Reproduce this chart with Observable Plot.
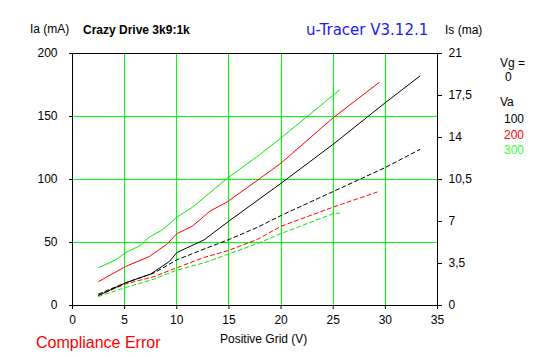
<!DOCTYPE html>
<html>
<head>
<meta charset="utf-8">
<script src="https://cdn.jsdelivr.net/npm/d3@7"></script>
<script src="https://cdn.jsdelivr.net/npm/@observablehq/plot@0.6"></script>
<style>
  html, body { margin: 0; padding: 0; background: #fff; }
  #chart { width: 547px; height: 357px; }
</style>
</head>
<body>
<div id="chart"></div>
<script>
// ---- data ----
const vaLevels = [100, 200, 300];
const seriesColors = ["#000000", "#ff0000", "#00ee00"];
const legendColors = ["#000000", "#ff0000", "#33ff33"];

// Anode current Ia (mA) vs positive grid voltage (V)
const ia100V = [2.5, 5.1, 7.5, 9.3, 10, 12.6, 15, 18, 20, 25, 30, 33.3];
const ia100 = [8, 18, 25, 35, 42, 52, 67, 85, 97, 128, 161, 182];
const ia200V = [2.5, 5.1, 7.4, 9.1, 10, 11.5, 13.2, 14.8, 18, 20, 25, 29.4];
const ia200 = [19, 31, 39, 49, 57, 63, 75, 82, 101, 113, 149, 177];
const ia300V = [2.5, 4.1, 5.1, 6.6, 7.3, 8.6, 10, 11.5, 15, 18, 20, 25.6];
const ia300 = [30, 36, 42, 48, 54, 60, 70, 78, 102, 120, 133, 171];

// Screen current Is (mA, right axis)
const is100V = [2.5, 5.1, 7.8, 10, 12.6, 15, 17.7, 20, 25, 30, 33.3];
const is100 = [0.95, 1.9, 2.7, 3.8, 4.7, 5.5, 6.5, 7.5, 9.5, 11.5, 13.0];
const is200V = [2.5, 5.1, 7.8, 10, 12.6, 15, 17.7, 20, 25, 29.2];
const is200 = [0.85, 1.8, 2.4, 3.15, 4.0, 4.6, 5.5, 6.6, 8.2, 9.45];
const is300V = [2.5, 5.1, 7.8, 10, 12.6, 15, 17.7, 20, 25, 25.6];
const is300 = [0.75, 1.5, 2.2, 2.95, 3.55, 4.3, 5.15, 6.0, 7.65, 7.7];

const xTicks = [0, 5, 10, 15, 20, 25, 30, 35];
const yTicks = [0, 50, 100, 150, 200];
const isTicks = [0, 3.5, 7, 10.5, 14, 17.5, 21];
const xGrid = [5, 10, 15, 20, 25, 30];
const yGrid = [50, 100, 150];

const iaMax = 200, isMax = 21;

// ---- build tables ----
function pts(vs, ys, va, scale) {
  return vs.map((v, i) => ({ v, y: ys[i] * scale, va }));
}
const iaData = [
  ...pts(ia100V, ia100, 100, 1),
  ...pts(ia200V, ia200, 200, 1),
  ...pts(ia300V, ia300, 300, 1)
];
const k = iaMax / isMax;
const isData = [
  ...pts(is100V, is100, 100, k),
  ...pts(is200V, is200, 200, k),
  ...pts(is300V, is300, 300, k)
];

const fmtComma = d => String(d).replace(".", ",");

const chart = Plot.plot({
  width: 547,
  height: 357,
  marginLeft: 72,
  marginRight: 110,
  marginTop: 53,
  marginBottom: 52,
  style: { fontFamily: "'Liberation Sans', Arial, sans-serif", fontSize: "12px", background: "#fff", color: "#000" },
  x: { domain: [0, 35], label: null },
  y: { domain: [0, iaMax], label: null },
  color: { domain: vaLevels, range: seriesColors },
  marks: [
    Plot.ruleX(xGrid, { stroke: "#00ff00", strokeWidth: 1, shapeRendering: "crispEdges" }),
    Plot.ruleY(yGrid, { stroke: "#00ff00", strokeWidth: 1, shapeRendering: "crispEdges" }),
    Plot.line(isData, { x: "v", y: "y", z: "va", stroke: "va", strokeWidth: 1, strokeDasharray: "4,3" }),
    Plot.line(iaData, { x: "v", y: "y", z: "va", stroke: "va", strokeWidth: 1 }),
    Plot.frame({ stroke: "#000", strokeWidth: 1, shapeRendering: "crispEdges" }),
    Plot.axisX({ ticks: xTicks, tickSize: 4, tickPadding: 6, label: null, tickFormat: d => d }),
    Plot.axisY({ anchor: "left", ticks: yTicks, tickSize: 3, tickPadding: 12, label: null, tickFormat: d => d }),
    Plot.axisY({ anchor: "right", ticks: isTicks.map(t => t * k), tickSize: 4, tickPadding: 7, label: null,
      tickFormat: d => fmtComma(Math.round(d / k * 10) / 10) })
  ]
});
document.getElementById("chart").appendChild(chart);

// ---- titles and labels ----
const svg = d3.select(chart);
function addText(x, y, str, opts = {}) {
  svg.append("text")
    .attr("x", x).attr("y", y)
    .attr("fill", opts.fill || "#000")
    .attr("font-family", opts.family || "'Liberation Sans', Arial, sans-serif")
    .attr("font-size", opts.size || "12px")
    .attr("font-weight", opts.weight || "normal")
    .attr("text-anchor", opts.anchor || "start")
    .text(str);
}
addText(30, 33, "Ia (mA)");
addText(83, 34, "Crazy Drive 3k9:1k", { weight: "bold", size: "12px" });
addText(306, 35, "u-Tracer V3.12.1", { fill: "#2020ee", size: "15px", family: "'DejaVu Sans', sans-serif" });
addText(445, 34, "Is (ma)");
addText(500, 67, "Vg =");
addText(505, 81, "0");
addText(500, 106, "Va");
vaLevels.forEach((v, i) => addText(504, 123 + i * 15.5, String(v), { fill: legendColors[i] }));
addText(220, 343, "Positive Grid (V)");
addText(36, 348, "Compliance Error", { fill: "#ff0000", size: "16px" });
</script>
</body>
</html>
